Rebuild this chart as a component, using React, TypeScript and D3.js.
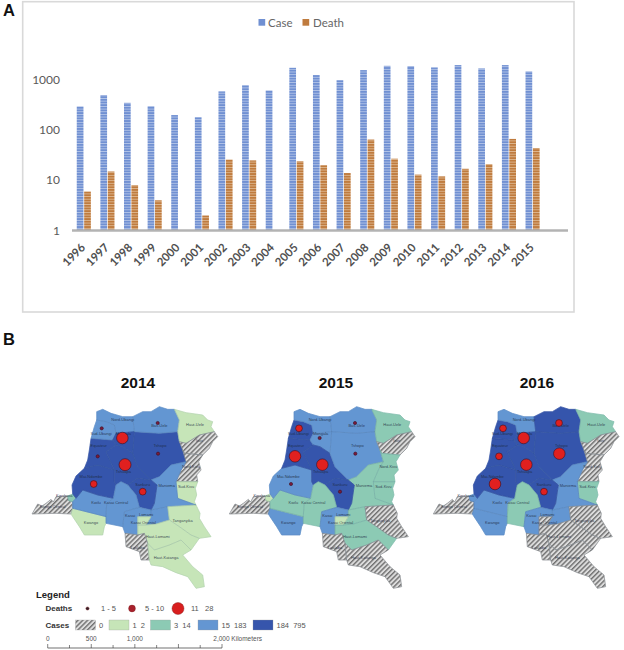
import React from 'react';
import * as d3 from 'd3';

// panel A: yearly totals (log scale), null = no deaths reported
const years = ['1996', '1997', '1998', '1999', '2000', '2001', '2002', '2003', '2004', '2005', '2006', '2007', '2008', '2009', '2010', '2011', '2012', '2013', '2014', '2015'];
const cases = [298, 500, 351, 302, 200, 182, 593, 791, 621, 1750, 1253, 995, 1575, 1918, 1892, 1780, 1982, 1700, 1982, 1480];
const deaths = [6, 15, 8, 4, null, 2, 26, 25, null, 24, 20, 14, 65, 27, 13, 12, 17, 21, 67, 44];
const yTicks = [1, 10, 100, 1000];

// panel B: provinces, outlines are in map units shared by the three maps
const provinces = ['Kongo Central', 'Kinshasa', 'Kwango', 'Kwilu', 'Mai-Ndombe', 'Equateur', 'Sud-Ubangi', 'Nord-Ubangi', 'Mongala', 'Tshuapa', 'Tshopo', 'Bas-Uele', 'Haut-Uele', 'Ituri', 'Nord-Kivu', 'Sud-Kivu', 'Maniema', 'Sankuru', 'Kasai Central', 'Kasai', 'Lomami', 'Kasai Oriental', 'Haut-Lomami', 'Tanganyika', 'Lualaba', 'Haut-Katanga'];
const outlines: number[][][] = [
  [[28, 432], [45, 402], [58, 408], [70, 400], [85, 388], [92, 396], [100, 380], [135, 378], [138, 392], [150, 395], [150, 415], [145, 432], [100, 430]],
  [[135, 378], [150, 372], [160, 385], [150, 395], [138, 392]],
  [[150, 415], [190, 425], [250, 440], [250, 460], [245, 470], [240, 495], [185, 495], [170, 470], [150, 440], [145, 432]],
  [[150, 395], [160, 385], [180, 360], [225, 375], [272, 385], [252, 400], [250, 440], [190, 425], [150, 415]],
  [[150, 372], [148, 345], [160, 318], [185, 295], [225, 285], [275, 300], [275, 335], [280, 345], [272, 385], [225, 375], [180, 360], [160, 385]],
  [[200, 240], [205, 205], [270, 210], [280, 225], [250, 245], [275, 300], [225, 285], [185, 295], [195, 270]],
  [[222, 150], [250, 155], [275, 165], [280, 190], [270, 210], [205, 205], [215, 170]],
  [[222, 150], [222, 125], [240, 118], [265, 130], [300, 140], [330, 140], [335, 185], [280, 190], [275, 165], [250, 155]],
  [[280, 190], [335, 185], [330, 250], [300, 230], [280, 225], [270, 210]],
  [[280, 225], [300, 230], [330, 250], [345, 290], [385, 330], [345, 325], [315, 345], [295, 335], [280, 345], [275, 335], [275, 300], [250, 245]],
  [[335, 185], [410, 190], [465, 185], [470, 215], [480, 240], [490, 275], [445, 285], [410, 320], [385, 330], [345, 290], [330, 250]],
  [[330, 140], [360, 125], [385, 125], [410, 110], [435, 118], [455, 118], [470, 150], [465, 185], [410, 190], [335, 185]],
  [[455, 118], [490, 128], [540, 135], [555, 150], [570, 155], [565, 170], [575, 185], [530, 195], [490, 220], [470, 215], [465, 185], [470, 150]],
  [[490, 220], [530, 195], [575, 185], [585, 200], [570, 215], [560, 235], [545, 250], [540, 255], [485, 250], [480, 240], [470, 215]],
  [[480, 240], [485, 250], [540, 255], [528, 275], [535, 300], [522, 315], [525, 335], [460, 335], [475, 300], [490, 275]],
  [[460, 335], [525, 335], [518, 355], [522, 375], [515, 395], [520, 405], [465, 385]],
  [[385, 330], [410, 320], [445, 285], [490, 275], [475, 300], [460, 335], [465, 385], [520, 405], [435, 410], [385, 420], [395, 400], [403, 345]],
  [[315, 345], [345, 325], [385, 330], [403, 345], [395, 400], [385, 420], [350, 412], [340, 375]],
  [[252, 400], [272, 385], [280, 345], [295, 335], [315, 345], [340, 375], [350, 412], [305, 425], [300, 470], [250, 460], [250, 440]],
  [[305, 425], [350, 412], [385, 420], [385, 440], [345, 440], [345, 465], [345, 495], [307, 490], [300, 470]],
  [[385, 420], [435, 410], [440, 450], [400, 462], [370, 465], [385, 440]],
  [[345, 440], [385, 440], [370, 465], [345, 465]],
  [[345, 465], [370, 465], [400, 462], [440, 450], [470, 470], [505, 495], [530, 505], [505, 540], [475, 510], [440, 525], [395, 540], [375, 520], [365, 490], [345, 495]],
  [[435, 410], [520, 405], [532, 430], [530, 445], [545, 470], [565, 500], [530, 505], [505, 495], [470, 470], [440, 450]],
  [[307, 490], [345, 495], [365, 490], [375, 520], [380, 570], [355, 570], [350, 545], [310, 530]],
  [[375, 520], [395, 540], [440, 525], [475, 510], [505, 540], [480, 555], [510, 590], [540, 615], [545, 650], [520, 655], [495, 620], [460, 608], [420, 590], [385, 585], [380, 570]],
];
const labelU = [90, 125, 205, 220, 205, 228, 235, 300, 302, 302, 412, 410, 517, 530, 505, 490, 432, 360, 280, 322, 370, 362, 405, 480, 345, 430];
const labelV = [415, 380, 462, 403, 325, 230, 195, 153, 195, 310, 232, 172, 168, 215, 293, 355, 352, 347, 403, 442, 438, 462, 505, 455, 537, 568];

// case class per province (index into classLabels), same order as provinces
const classLabels = ['0', '1  2', '3  14', '15  183', '184  795'];
const classes2014 = [0, 2, 1, 3, 4, 4, 3, 3, 4, 4, 4, 3, 1, 0, 0, 1, 3, 4, 3, 3, 3, 1, 1, 1, 0, 1];
const classes2015 = [0, 1, 3, 2, 3, 4, 4, 3, 3, 4, 3, 3, 2, 0, 2, 2, 2, 4, 2, 3, 2, 1, 2, 0, 0, 0];
const classes2016 = [0, 3, 3, 3, 4, 4, 4, 3, 4, 4, 4, 4, 2, 0, 0, 2, 3, 4, 2, 3, 3, 0, 0, 0, 0, 0];

// deaths per province with a bubble
const bubbleProvinces = ['Sud-Ubangi', 'Mongala', 'Equateur', 'Tshuapa', 'Mai-Ndombe', 'Sankuru', 'Bas-Uele', 'Tshopo'];
const bubbleU = [237, 299, 225, 307, 213, 360, 405, 406];
const bubbleV = [175, 204, 259, 284, 342, 365, 159, 251];
const deaths2014 = [2, 26, 2, 28, 9, 9, 2, 2];
const deaths2015 = [9, 2, 26, 26, 2, 2, 2, 2];
const deaths2016 = [9, 26, 9, 26, 26, 9, 9, 26];

const mapYears = ['2014', '2015', '2016'];
const mapClasses = [classes2014, classes2015, classes2016];
const mapDeaths = [deaths2014, deaths2015, deaths2016];

const legendDeaths = [2, 9, 28];
const legendDeathLabels = ['1 - 5', '5 - 10', '11   28'];
const scaleKm = [0, 250, 500, 750, 1000, 1250, 1500, 1750, 2000];
const scaleLabels = ['0', '500', '1,000', '2,000 Kilometers'];

const classFills = ['url(#hatch)', '#c6e5b8', '#8ccab4', '#6496d2', '#3655ac'];
const classEdges = ['#9a9a9a', '#c6e5b8', '#8ccab4', '#6496d2', '#3655ac'];
const sans = '"Liberation Sans", Arial, sans-serif';
const lato = 'Lato, Calibri, sans-serif';

const App: React.FC = () => {
  const x = d3.scaleBand<string>().domain([...years, '']).range([72, 568]);
  const y = d3.scaleLog().domain([1, 1000]).range([230.5, 80]);
  const barW = 6.7;

  const u = d3.scaleLinear().domain([0, 600]).range([0, 200]);
  const v = d3.scaleLinear().domain([0, 600]).range([370, 570]);
  const r = d3.scaleSqrt().domain([0, 28]).range([0, 6]);
  const line = d3.line<number[]>().x(p => u(p[0])).y(p => v(p[1])).curve(d3.curveLinearClosed);
  const panelX = [22.7, 220, 424];
  const titleX = [138, 336, 537];

  const km = d3.scaleLinear().domain([0, 2000]).range([47.7, 222]);
  const scaleLabelX = [km(0), km(500), km(1000), km(1900)];
  const swatchX = [75.5, 109, 150.5, 198, 253];
  const deathDotX = [87.5, 132, 178];
  const deathLabelX = [101, 145, 191];

  return (
    <svg width={624} height={650} style={{ position: 'absolute', left: 0, top: 0, display: 'block', background: '#fff' }}>
      <defs>
        <pattern id="barBlue" width={4} height={2.65} patternUnits="userSpaceOnUse">
          <rect width={4} height={2.65} fill="#7090d2" />
          <rect width={4} height={0.8} fill="#b9c9ea" />
        </pattern>
        <pattern id="barOrange" width={4} height={2.65} patternUnits="userSpaceOnUse">
          <rect width={4} height={2.65} fill="#bf7b3e" />
          <rect width={4} height={0.8} fill="#e2bd98" />
        </pattern>
        <pattern id="hatch" width={3.4} height={3.4} patternUnits="userSpaceOnUse" patternTransform="rotate(-45)">
          <rect width={3.4} height={3.4} fill="#dcdcdc" />
          <rect width={3.4} height={1.4} fill="#6f6f6f" />
        </pattern>
        <filter id="soft" x="-5%" y="-5%" width="110%" height="110%">
          <feGaussianBlur stdDeviation={0.35} />
        </filter>
      </defs>

      <text x={3} y={16} fontFamily={sans} fontWeight="bold" fontSize={16.5} fill="#111">A</text>
      <text x={3} y={345} fontFamily={sans} fontWeight="bold" fontSize={16.5} fill="#111">B</text>

      <rect x={22.7} y={1.7} width={551.3} height={310.3} fill="#fff" stroke="#d9d9d9" strokeWidth={1.6} />

      <rect x={258.5} y={19} width={6.7} height={6.7} fill="#7090d2" />
      <text x={268} y={26.5} fontFamily={lato} fontSize={11.5} fill="#666">Case</text>
      <rect x={302.5} y={19} width={6.7} height={6.7} fill="#bf7b3e" />
      <text x={313} y={26.5} fontFamily={lato} fontSize={11.5} fill="#666">Death</text>

      {yTicks.map(t => (
        <text key={t} x={60} y={y(t) + 4} textAnchor="end" fontFamily={lato} fontSize={12} fill="#595959">{t}</text>
      ))}

      {years.map((yr, i) => {
        const cx = x(yr)! + x.bandwidth() / 2;
        const d = deaths[i];
        return (
          <g key={yr}>
            <rect x={cx - barW - 0.35} y={y(cases[i])} width={barW} height={y(1) - y(cases[i])} fill="url(#barBlue)" />
            {d != null && (
              <rect x={cx + 0.35} y={y(d)} width={barW} height={y(1) - y(d)} fill="url(#barOrange)" />
            )}
            <text transform={`translate(${cx - 4},${242}) rotate(-45)`} textAnchor="end" dominantBaseline="hanging" fontFamily={lato} fontWeight="bold" fontSize={11.5} fill="#505050">{yr}</text>
          </g>
        );
      })}
      <line x1={72} x2={568} y1={y(1)} y2={y(1)} stroke="#b3b3b3" strokeWidth={2.4} />

      {mapYears.map((yr, m) => (
        <g key={yr}>
          <text x={titleX[m]} y={388} textAnchor="middle" fontFamily={sans} fontWeight="bold" fontSize={15.5} fill="#111">{yr}</text>
          <g transform={`translate(${panelX[m]},0)`}>
            <g filter="url(#soft)">
              {provinces.map((name, i) => (
                <path key={name} d={line(outlines[i])!} fill={classFills[mapClasses[m][i]]} stroke={classEdges[mapClasses[m][i]]} strokeWidth={0.7} strokeLinejoin="round" />
              ))}
              {provinces.map((name, i) => (
                <path key={name} d={line(outlines[i])!} fill="none" stroke="#2f4f78" strokeOpacity={0.3} strokeWidth={0.3} strokeLinejoin="round" />
              ))}
            </g>
            {provinces.map((name, i) => (
              <text key={name} x={u(labelU[i])} y={v(labelV[i])} textAnchor="middle" fontFamily={sans} fontSize={4} fill="#1c2a40" fillOpacity={0.85}>{name}</text>
            ))}
            {bubbleProvinces.map((name, i) => (
              <circle key={name} cx={u(bubbleU[i])} cy={v(bubbleV[i])} r={r(mapDeaths[m][i])} fill={mapDeaths[m][i] > 3 ? '#e0201f' : '#7a1a3c'} stroke="#3a1020" strokeWidth={0.6} />
            ))}
          </g>
        </g>
      ))}

      <text x={36} y={598} fontFamily={sans} fontWeight="bold" fontSize={9.5} fill="#222">Legend</text>
      <text x={45.5} y={611} fontFamily={sans} fontWeight="bold" fontSize={8} fill="#333">Deaths</text>
      {legendDeaths.map((d, i) => (
        <g key={d}>
          <circle cx={deathDotX[i]} cy={608.5} r={r(d)} fill={i === 0 ? '#33202a' : i === 1 ? '#a8202c' : '#d81e1e'} stroke="#7c1a1a" strokeWidth={0.4} />
          <text x={deathLabelX[i]} y={611} fontFamily={sans} fontSize={7.5} fill="#555" style={{ whiteSpace: 'pre' }}>{legendDeathLabels[i]}</text>
        </g>
      ))}
      <text x={45.5} y={628} fontFamily={sans} fontWeight="bold" fontSize={8} fill="#333">Cases</text>
      {classLabels.map((label, i) => (
        <g key={label}>
          <rect x={swatchX[i]} y={620} width={20} height={10} fill={classFills[i]} stroke="#999" strokeWidth={0.3} />
          <text x={swatchX[i] + 23.5} y={628} fontFamily={sans} fontSize={7.5} fill="#555" style={{ whiteSpace: 'pre' }}>{label}</text>
        </g>
      ))}
      {scaleLabels.map((label, i) => (
        <text key={label} x={scaleLabelX[i]} y={640.5} textAnchor={i === 3 ? 'start' : 'middle'} fontFamily={sans} fontSize={6.5} fill="#555">{label}</text>
      ))}
      <line x1={km(0)} x2={km(2000)} y1={648} y2={648} stroke="#333" strokeWidth={0.7} />
      {scaleKm.map(t => (
        <line key={t} x1={km(t)} x2={km(t)} y1={t % 500 === 0 ? 644 : 645} y2={648} stroke="#333" strokeWidth={0.6} />
      ))}
    </svg>
  );
};

export default App;
